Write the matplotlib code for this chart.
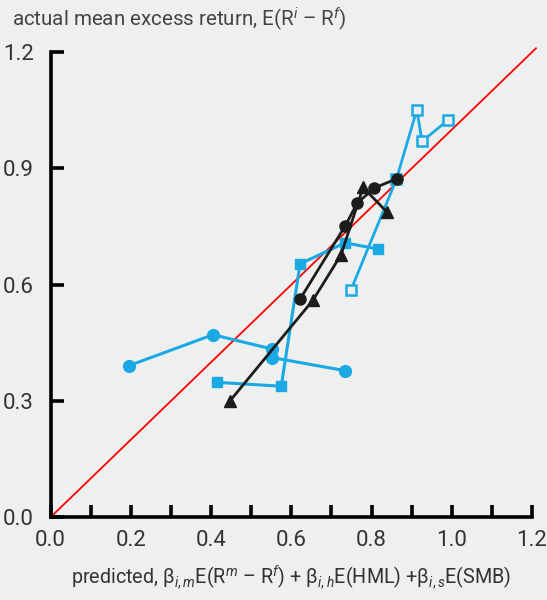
import matplotlib
matplotlib.use('Agg')
import matplotlib.pyplot as plt
from matplotlib.ticker import MultipleLocator

plt.rcParams['font.family'] = ['Roboto', 'DejaVu Sans']
plt.rcParams['mathtext.fontset'] = 'custom'
plt.rcParams['mathtext.rm'] = 'Roboto'
plt.rcParams['mathtext.it'] = 'Roboto:italic'

BLUE = '#1aa9e2'
BLACK = '#1c1c1c'
BG = '#eef0f0'

# blue circles
circ_b_x = [0.195, 0.405, 0.552, 0.552, 0.735]
circ_b_y = [0.391, 0.471, 0.434, 0.412, 0.378]
# blue filled squares
sq_x = [0.415, 0.575, 0.622, 0.734, 0.817]
sq_y = [0.348, 0.338, 0.654, 0.708, 0.692]
# blue hollow squares
hsq_x = [0.749, 0.862, 0.913, 0.926, 0.990]
hsq_y = [0.587, 0.872, 1.051, 0.970, 1.024]
# black circles
circ_k_x = [0.622, 0.734, 0.764, 0.806, 0.864]
circ_k_y = [0.563, 0.751, 0.810, 0.849, 0.874]
# black triangles
tri_x = [0.447, 0.654, 0.724, 0.779, 0.839]
tri_y = [0.300, 0.560, 0.677, 0.851, 0.787]

fig = plt.figure(figsize=(5.47, 6.0), dpi=100, facecolor=BG)
ax = fig.add_axes([0.0925, 0.138, 0.88, 0.775], facecolor=BG)

# 45 degree line
ax.plot([0, 1.21], [0, 1.21], color='#ff0000', lw=1.3, clip_on=False, zorder=2)

ax.plot(circ_b_x, circ_b_y, color=BLUE, lw=2.2, marker='o', ms=8.5, zorder=3)
ax.plot(sq_x, sq_y, color=BLUE, lw=2.2, marker='s', ms=7, zorder=3)
ax.plot(hsq_x, hsq_y, color=BLUE, lw=2.0, marker='s', ms=6.5, mfc=BG, mew=1.8, zorder=3)
ax.plot(circ_k_x, circ_k_y, color=BLACK, lw=2.0, marker='o', ms=8, zorder=4)
ax.plot(tri_x, tri_y, color=BLACK, lw=2.0, marker='^', ms=8.5, zorder=4)

ax.set_xlim(0, 1.2)
ax.set_ylim(0, 1.2)
for s in ['top', 'right']:
    ax.spines[s].set_visible(False)
for s in ['left', 'bottom']:
    ax.spines[s].set_linewidth(2.6)
    ax.spines[s].set_color('black')

ax.xaxis.set_major_locator(MultipleLocator(0.2))
ax.xaxis.set_minor_locator(MultipleLocator(0.1))
ax.yaxis.set_major_locator(MultipleLocator(0.3))
ax.tick_params(axis='both', which='both', direction='in', length=9, width=2.6,
               color='black', labelsize=16, labelcolor='#333333')
ax.tick_params(axis='x', pad=9)
ax.tick_params(axis='y', pad=12)
ax.set_xticklabels([f'{v:.1f}' for v in ax.get_xticks()])
ax.set_yticklabels([f'{v:.1f}' for v in ax.get_yticks()])

fig.text(0.022, 0.968, r'actual mean excess return, E(R$^i$ – R$^f$)',
         fontsize=14.8, color='#444444', va='center', ha='left')
ax.set_xlabel(r'predicted, β$_{i,m}$E(R$^m$ – R$^f$) + β$_{i,h}$E(HML) +β$_{i,s}$E(SMB)',
              fontsize=14.2, color='#333333', labelpad=9)

fig.savefig('out.png', dpi=100, facecolor=BG)
